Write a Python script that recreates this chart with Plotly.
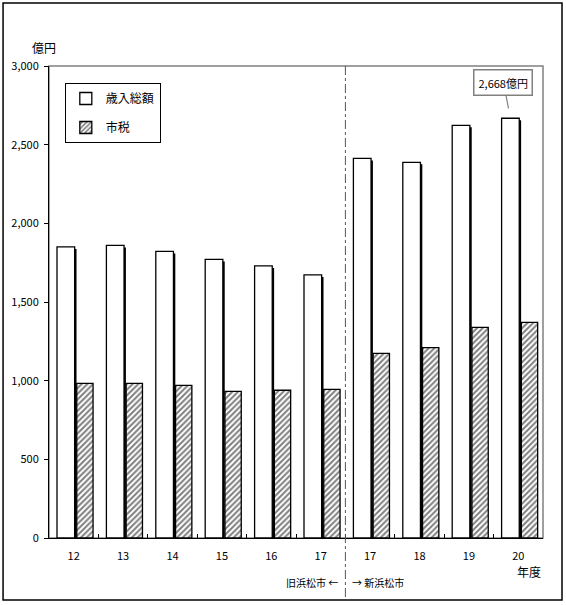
import plotly.graph_objects as go

# 年度 (旧浜松市 H12-17, 新浜松市 H17-20)
categories = ["旧12", "旧13", "旧14", "旧15", "旧16", "旧17", "新17", "新18", "新19", "新20"]
tick_labels = ["12", "13", "14", "15", "16", "17", "17", "18", "19", "20"]

# 億円
revenue_total = [1850, 1860, 1822, 1771, 1729, 1672, 2413, 2388, 2623, 2668]
city_tax = [983, 983, 970, 932, 939, 945, 1174, 1210, 1339, 1371]

FONT = "Noto Sans CJK JP"
SHADOW_DROP = 13  # shadow sits ~2px below the bar top

fig = go.Figure()

# drop shadow behind the white bars
fig.add_trace(go.Bar(
    x=categories, y=[v - SHADOW_DROP for v in revenue_total],
    offset=-0.30, width=0.357,
    marker=dict(color="black", line=dict(width=0)),
    showlegend=False, hoverinfo="skip",
))
fig.add_trace(go.Bar(
    x=categories, y=revenue_total, name="歳入総額",
    offset=-0.338, width=0.357,
    marker=dict(color="white", line=dict(color="black", width=1.3)),
    legendgroup="a",
))
fig.add_trace(go.Bar(
    x=categories, y=city_tax, name="市税",
    offset=0.062, width=0.33,
    marker=dict(
        color="white", line=dict(color="black", width=1.3),
        pattern=dict(shape="/", fgcolor="black", bgcolor="white", size=4, solidity=0.5),
    ),
    legendgroup="b",
))

# callout for the latest year
fig.add_annotation(
    x=len(categories) - 1 - 0.16, y=revenue_total[-1], xref="x", yref="y",
    text=f"{revenue_total[-1]:,}億円", showarrow=True, arrowhead=0,
    arrowcolor="#808080", arrowwidth=1.2, ax=-7, ay=-36, standoff=10,
    bordercolor="#808080", borderwidth=1.5, borderpad=4, bgcolor="white",
    font=dict(family=FONT, size=11, color="black"),
)

# axis titles / region notes
notes = [
    ("億円", -0.010, 1.040, "center", 12),
    ("年度", 0.972, -0.070, "center", 12),
    ("旧浜松市 ←", 0.589, -0.095, "right", 10),
    ("→ 新浜松市", 0.609, -0.095, "left", 10),
]
for txt, nx, ny, anchor, size in notes:
    fig.add_annotation(
        x=nx, y=ny, xref="paper", yref="paper", text=txt, showarrow=False,
        xanchor=anchor, yanchor="middle", font=dict(family=FONT, size=size, color="black"),
    )

# gray frame (top/right), divider between old and new city, outer border
fig.add_shape(type="rect", xref="x domain", yref="y domain", x0=0, x1=1, y0=0, y1=1,
              line=dict(color="#808080", width=1.5), layer="below")
fig.add_shape(type="line", xref="x", yref="paper", x0=5.5, x1=5.5, y0=1, y1=-0.131,
              line=dict(color="#555555", width=1, dash="dashdot"))
fig.add_shape(type="rect", xref="paper", yref="paper", x0=-0.093, x1=1.0385, y0=-0.1314, y1=1.1335,
              line=dict(color="black", width=1.5))

fig.update_layout(
    width=566, height=605,
    margin=dict(l=49, r=23, t=66, b=67),
    paper_bgcolor="white", plot_bgcolor="white",
    barmode="overlay",
    font=dict(family=FONT, size=11, color="black"),
    legend=dict(
        x=0.032, y=0.964, xanchor="left", yanchor="top",
        bordercolor="black", borderwidth=1, bgcolor="white",
        traceorder="grouped", tracegroupgap=10, itemwidth=30,
        font=dict(family=FONT, size=12),
    ),
)
fig.update_xaxes(
    type="category", categoryorder="array", categoryarray=categories,
    tickmode="array", tickvals=categories, ticktext=tick_labels,
    tickson="boundaries", ticks="inside", ticklen=4, tickcolor="black",
    ticklabelstandoff=8, automargin=False,
    showline=True, linecolor="black", linewidth=1, showgrid=False,
    range=[-0.5, len(categories) - 0.5],
)
fig.update_yaxes(
    range=[0, 3000], dtick=500, tickformat=",d",
    ticks="outside", ticklen=4, tickcolor="black", ticklabelstandoff=3, automargin=False,
    showline=True, linecolor="black", linewidth=1, showgrid=False, zeroline=False,
)

# page body has a default 8px margin; remove it so the figure fills the window
fig.write_html(
    "out.html",
    config={"displayModeBar": False},
    post_script="document.body.style.margin='0';",
)
